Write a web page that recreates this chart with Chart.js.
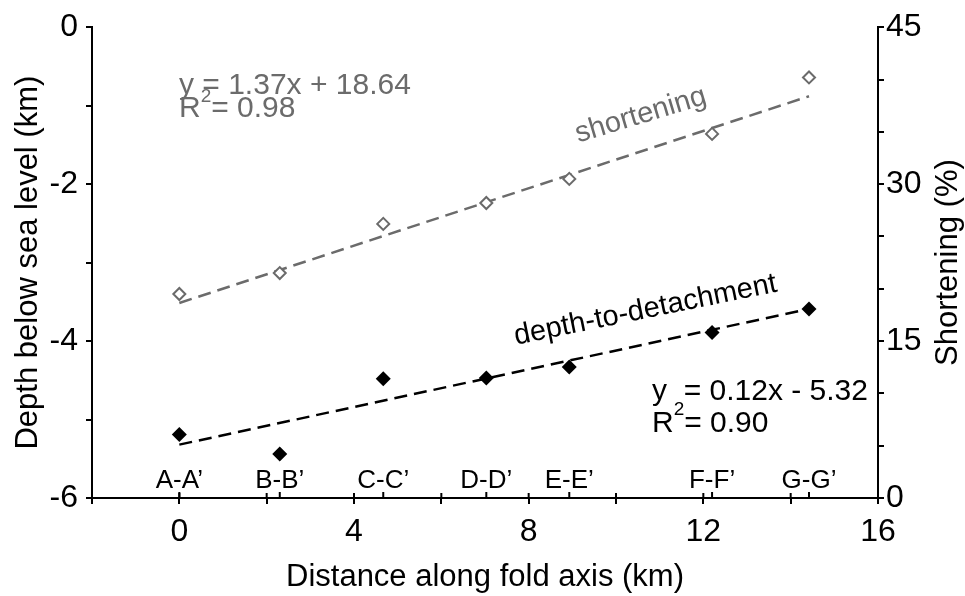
<!DOCTYPE html>
<html>
<head>
<meta charset="utf-8">
<script src="https://cdn.jsdelivr.net/npm/chart.js@4.4.1/dist/chart.umd.min.js"></script>
<style>
  body { margin: 0; background: #fff; }
  #wrap { width: 965px; height: 596px; }
</style>
</head>
<body>
<div id="wrap"><canvas id="foldChart"></canvas></div>
<script>
// cross sections along the fold
var sections = ['A-A’', 'B-B’', 'C-C’', 'D-D’', 'E-E’', 'F-F’', 'G-G’'];
var sectionDist = [0, 2.3, 4.67, 7.03, 8.93, 12.2, 14.42];
var depthKm = [-5.19, -5.44, -4.48, -4.47, -4.33, -3.89, -3.59];
var shorteningPct = [19.5, 21.5, 26.2, 28.2, 30.5, 34.8, 40.2];

// linear fits (end points)
var fitDist = [0, 14.42];
var depthFit = [-5.32, -3.59];
var shorteningFit = [18.64, 38.4];

// labelled ticks
var distLabels = [0, 4, 8, 12, 16];
var depthLabels = [-6, -4, -2, 0];
var shorteningLabels = [0, 15, 30, 45];

var grey = '#6b6b6b';
var fontFamily = "'Liberation Sans', Arial, sans-serif";
Chart.defaults.font.family = fontFamily;
Chart.defaults.color = '#000';

function toPoints(xs, ys) {
    return xs.map(function (x, i) { return { x: x, y: ys[i] }; });
}

// axis furniture and text that Chart.js has no option for
var extras = {
    id: 'extras',
    afterDraw: function (chart) {
        var ctx = chart.ctx;
        var xs = chart.scales.x;
        var area = chart.chartArea;
        ctx.save();
        ctx.strokeStyle = '#000';
        ctx.lineWidth = 2;

        // upper half of the x ticks
        xs.ticks.forEach(function (t) {
            var px = xs.getPixelForValue(t.value);
            ctx.beginPath();
            ctx.moveTo(px, area.bottom - 5);
            ctx.lineTo(px, area.bottom);
            ctx.stroke();
        });

        // section markers
        ctx.font = '26px ' + fontFamily;
        ctx.fillStyle = '#000';
        ctx.textAlign = 'center';
        ctx.textBaseline = 'alphabetic';
        sectionDist.forEach(function (d, i) {
            var px = xs.getPixelForValue(d);
            ctx.beginPath();
            ctx.moveTo(px, area.bottom - 6);
            ctx.lineTo(px, area.bottom);
            ctx.stroke();
            ctx.fillText(sections[i], px, area.bottom - 10);
        });

        // regression equations
        function equation(x, y1, y2, sup, eq, r2, colour) {
            ctx.fillStyle = colour;
            ctx.textAlign = 'left';
            ctx.font = '30px ' + fontFamily;
            ctx.fillText(eq, x, y1);
            ctx.fillText('R', x, y2);
            var w = ctx.measureText('R').width;
            ctx.font = '19px ' + fontFamily;
            ctx.fillText('2', x + w, y2 - sup);
            var w2 = ctx.measureText('2').width;
            ctx.font = '30px ' + fontFamily;
            ctx.fillText('= ' + r2, x + w + w2, y2);
        }
        equation(area.left + 87, area.top + 67, area.top + 90, 15, 'y = 1.37x + 18.64', '0.98', grey);
        equation(area.left + 560, area.top + 373, area.top + 405, 17, 'y  = 0.12x - 5.32', '0.90', '#000');

        // series labels along the fits
        function tilted(text, x, y, deg, colour) {
            ctx.save();
            ctx.translate(x, y);
            ctx.rotate(-deg * Math.PI / 180);
            ctx.fillStyle = colour;
            ctx.font = '29px ' + fontFamily;
            ctx.textAlign = 'center';
            ctx.textBaseline = 'alphabetic';
            ctx.fillText(text, 0, 0);
            ctx.restore();
        }
        tilted('shortening', 643, 123, 16.8, grey);
        tilted('depth-to-detachment', 647, 318, 11.5, '#000');

        // right axis title, reading upwards
        ctx.save();
        ctx.translate(area.right + 70, (area.top + area.bottom) / 2);
        ctx.rotate(-Math.PI / 2);
        ctx.fillStyle = '#000';
        ctx.font = '31px ' + fontFamily;
        ctx.textAlign = 'center';
        ctx.textBaseline = 'middle';
        ctx.fillText('Shortening (%)', 0, 0);
        ctx.restore();

        ctx.restore();
    }
};

var axisGrid = { drawOnChartArea: false, drawTicks: true, tickLength: 6, color: '#000', lineWidth: 2 };
var axisBorder = { display: true, color: '#000', width: 2 };

new Chart(document.getElementById('foldChart'), {
    type: 'scatter',
    data: {
        datasets: [{
            label: 'depth-to-detachment',
            data: toPoints(sectionDist, depthKm),
            yAxisID: 'y',
            pointStyle: 'rectRot',
            pointRadius: 7.5,
            backgroundColor: '#000',
            borderColor: '#000',
            borderWidth: 0,
            order: 1
        }, {
            label: 'shortening',
            data: toPoints(sectionDist, shorteningPct),
            yAxisID: 'y1',
            pointStyle: 'rectRot',
            pointRadius: 6,
            backgroundColor: '#fff',
            borderColor: grey,
            borderWidth: 2,
            order: 1
        }, {
            label: 'depth fit',
            type: 'line',
            data: toPoints(fitDist, depthFit),
            yAxisID: 'y',
            borderColor: '#000',
            borderWidth: 2.5,
            borderDash: [13, 7],
            pointRadius: 0,
            fill: false,
            order: 2
        }, {
            label: 'shortening fit',
            type: 'line',
            data: toPoints(fitDist, shorteningFit),
            yAxisID: 'y1',
            borderColor: grey,
            borderWidth: 2.5,
            borderDash: [13, 7],
            pointRadius: 0,
            fill: false,
            order: 2
        }]
    },
    options: {
        responsive: true,
        maintainAspectRatio: false,
        animation: false,
        layout: { padding: { top: 25, left: 0, right: 0, bottom: 0 } },
        plugins: {
            legend: { display: false },
            tooltip: { enabled: false }
        },
        scales: {
            x: {
                type: 'linear',
                min: -2,
                max: 16,
                grid: axisGrid,
                border: axisBorder,
                ticks: {
                    stepSize: 2,
                    autoSkip: false,
                    maxRotation: 0,
                    padding: 9,
                    font: { size: 32 },
                    callback: function (v) { return distLabels.indexOf(v) >= 0 ? v : ''; }
                },
                title: {
                    display: true,
                    text: 'Distance along fold axis (km)',
                    font: { size: 31 },
                    padding: { top: 0, bottom: 0 }
                },
                afterFit: function (s) { s.height = 98; }
            },
            y: {
                position: 'left',
                min: -6,
                max: 0,
                grid: axisGrid,
                border: axisBorder,
                ticks: {
                    stepSize: 1,
                    autoSkip: false,
                    padding: 8,
                    font: { size: 32 },
                    callback: function (v) { return depthLabels.indexOf(v) >= 0 ? v : ''; }
                },
                title: {
                    display: true,
                    text: 'Depth below sea level (km)',
                    font: { size: 31 },
                    padding: { top: 10, bottom: 0 }
                },
                afterFit: function (s) { s.width = 92; }
            },
            y1: {
                position: 'right',
                min: 0,
                max: 45,
                grid: axisGrid,
                border: axisBorder,
                ticks: {
                    stepSize: 5,
                    autoSkip: false,
                    padding: 2,
                    font: { size: 32 },
                    callback: function (v) { return shorteningLabels.indexOf(v) >= 0 ? v : ''; }
                },
                afterFit: function (s) { s.width = 87; }
            }
        }
    },
    plugins: [extras]
});
</script>
</body>
</html>
